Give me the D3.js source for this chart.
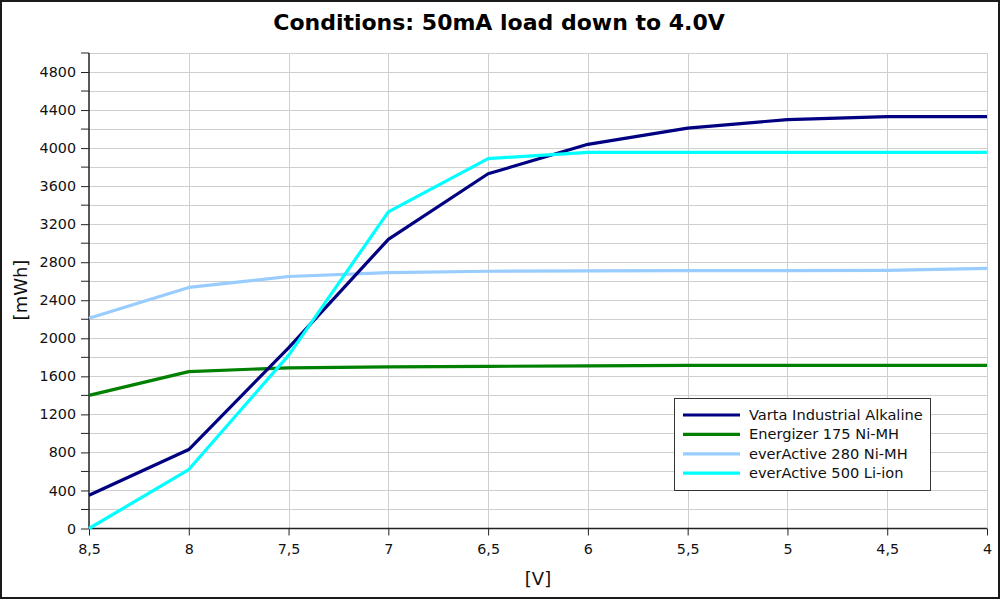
<!DOCTYPE html>
<html><head><meta charset="utf-8">
<script src="https://cdn.jsdelivr.net/npm/d3@7"></script>
<style>body{margin:0;background:#fff}svg{display:block;font-family:"DejaVu Sans",sans-serif}</style>
</head><body><svg id="c" width="1000" height="599"></svg>
<script>
const voltages = [8.5, 8, 7.5, 7, 6.5, 6, 5.5, 5, 4.5, 4];
const seriesNames = ["Varta Industrial Alkaline", "Energizer 175 Ni-MH", "everActive 280 Ni-MH", "everActive 500 Li-ion"];
const varta = [350, 830, 1900, 3040, 3730, 4040, 4210, 4300, 4330, 4330];
const energizer = [1400, 1650, 1690, 1700, 1705, 1710, 1715, 1715, 1715, 1715];
const everActive280 = [2210, 2535, 2650, 2690, 2705, 2710, 2712, 2712, 2715, 2735];
const everActive500 = [0, 620, 1820, 3330, 3890, 3955, 3955, 3955, 3955, 3955];
const colors = ["#000080", "#008000", "#99ccff", "#00ffff"];
const yMajorTicks = [0, 400, 800, 1200, 1600, 2000, 2400, 2800, 3200, 3600, 4000, 4400, 4800];
const xTickLabels = ["8,5", "8", "7,5", "7", "6,5", "6", "5,5", "5", "4,5", "4"];

const svg = d3.select("#c");
const L = 89, R = 987, T = 53, B = 528.5;
const x = d3.scaleLinear().domain([8.5, 4]).range([L, R]);
const y = d3.scaleLinear().domain([0, 5000]).range([B, T]);

svg.append("rect").attr("x", 1).attr("y", 1).attr("width", 998).attr("height", 597)
  .attr("fill", "#fff").attr("stroke", "#1a1a1a").attr("stroke-width", 2);

// grid
const g = svg.append("g");
g.selectAll(".hg").data(d3.range(200, 5001, 200)).join("line")
  .attr("x1", L).attr("x2", R).attr("y1", d => Math.round(y(d)) + 0.5).attr("y2", d => Math.round(y(d)) + 0.5)
  .attr("stroke", "#cfcfcf").attr("stroke-width", 1);
g.selectAll(".vg").data(voltages.slice(1)).join("line")
  .attr("y1", T).attr("y2", B).attr("x1", d => Math.round(x(d)) + 0.5).attr("x2", d => Math.round(x(d)) + 0.5)
  .attr("stroke", "#cfcfcf").attr("stroke-width", 1);

// axes
const yAxis = d3.axisLeft(y).tickValues(yMajorTicks).tickSize(8).tickPadding(5).tickFormat(d => d);
const ya = svg.append("g").attr("transform", `translate(${L},0)`).call(yAxis);
ya.select(".domain").remove();
ya.append("line").attr("x1", 0).attr("x2", 0).attr("y1", T).attr("y2", B).attr("stroke", "#222").attr("stroke-width", 1.5);
ya.selectAll(".minor").data(d3.range(200, 5001, 400)).join("line")
  .attr("x1", -8).attr("x2", 0).attr("y1", d => y(d)).attr("y2", d => y(d)).attr("stroke", "#222");
ya.selectAll(".tick line").attr("stroke", "#222");
ya.selectAll("text").attr("font-size", 14.3).attr("fill", "#111").attr("font-family", "DejaVu Sans");

const xAxis = d3.axisBottom(x).tickValues(voltages).tickSize(7).tickPadding(8)
  .tickFormat((d, i) => xTickLabels[i]);
const xa = svg.append("g").attr("transform", `translate(0,${B})`).call(xAxis);
xa.select(".domain").remove();
xa.append("line").attr("x1", L).attr("x2", R).attr("y1", 0).attr("y2", 0).attr("stroke", "#222").attr("stroke-width", 1.5);
xa.selectAll(".tick line").attr("stroke", "#222");
xa.selectAll("text").attr("font-size", 14.3).attr("fill", "#111").attr("font-family", "DejaVu Sans");

// lines
const data = [varta, energizer, everActive280, everActive500];
const line = d3.line().x((d, i) => x(voltages[i])).y(d => y(d));
const order = [2, 1, 0, 3];
order.forEach(k => {
  svg.append("path").attr("d", line(data[k])).attr("fill", "none")
    .attr("stroke", colors[k]).attr("stroke-width", 3.2).attr("stroke-linejoin", "round");
});

// titles
svg.append("text").attr("x", 499).attr("y", 30).attr("text-anchor", "middle")
  .attr("font-size", 22).attr("font-weight", "bold").attr("fill", "#000").text("Conditions: 50mA load down to 4.0V");
svg.append("text").attr("x", 538).attr("y", 585).attr("text-anchor", "middle")
  .attr("font-size", 18).attr("fill", "#111").text("[V]");
svg.append("text").attr("transform", "translate(27,290) rotate(-90)").attr("text-anchor", "middle")
  .attr("font-size", 18).attr("fill", "#111").text("[mWh]");

// legend
const lg = svg.append("g");
lg.append("rect").attr("x", 674.5).attr("y", 398.5).attr("width", 256).attr("height", 92)
  .attr("fill", "#fff").attr("stroke", "#333").attr("stroke-width", 1);
seriesNames.forEach((n, i) => {
  const yy = 415 + i * 19.4;
  lg.append("line").attr("x1", 683).attr("x2", 740).attr("y1", yy).attr("y2", yy)
    .attr("stroke", colors[i]).attr("stroke-width", 3.2);
  lg.append("text").attr("x", 749).attr("y", yy + 5).attr("font-size", 14.6).attr("fill", "#111").text(n);
});
</script></body></html>
